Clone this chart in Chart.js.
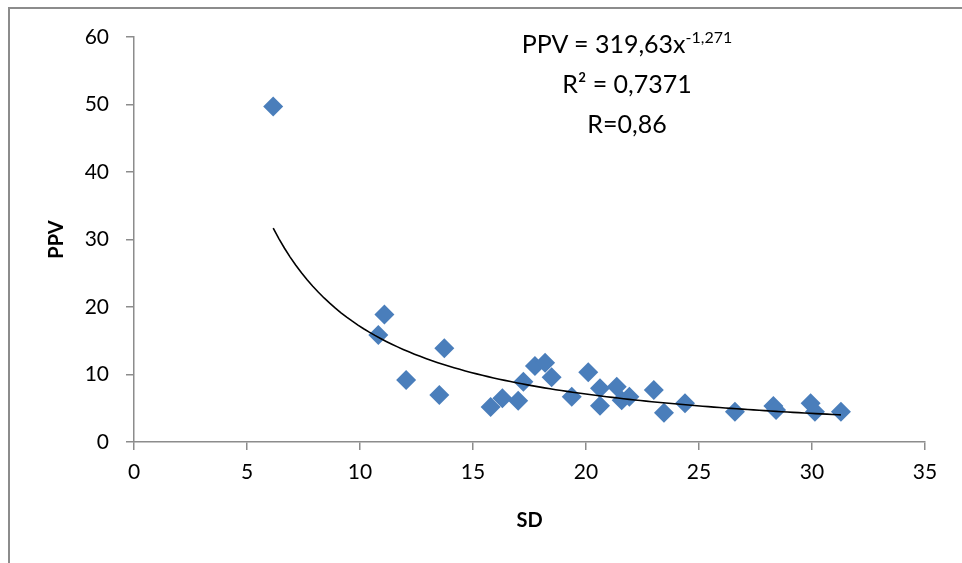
<!DOCTYPE html>
<html>
<head>
<meta charset="utf-8">
<script src="https://cdn.jsdelivr.net/npm/chart.js@4.4.1/dist/chart.umd.min.js"></script>
<style>
	body { margin: 0; background: #fff; }
	#wrap { position: relative; width: 962px; height: 563px; }
	#frame { position: absolute; left: 8px; top: 7px; right: 0; bottom: 0; border-left: 2px solid #8c8c8c; border-top: 2px solid #8c8c8c; }
	#eq { position: absolute; left: 477px; top: 23px; width: 300px; text-align: center; font-family: Lato, sans-serif; font-size: 25px; line-height: 40px; color: #000; }
	#eq sup { font-size: 16px; line-height: 0; vertical-align: 10px; }
</style>
</head>
<body>
<div id="wrap">
	<canvas id="ppv-chart" width="962" height="563"></canvas>
	<div id="frame"></div>
	<div id="eq">PPV = 319,63x<sup>-1,271</sup><br>R² = 0,7371<br>R=0,86</div>
</div>
<script>
Chart.defaults.font.family = 'Lato';
Chart.defaults.font.size = 21;
Chart.defaults.color = '#000';

// measured SD / PPV pairs
var sdList = [6.16, 10.81, 11.08, 12.04, 13.51, 13.73, 15.78, 16.3, 17.0, 17.23,
	17.74, 18.19, 18.48, 19.37, 20.1, 20.62, 20.62, 21.36, 21.58, 21.92,
	23.0, 23.45, 24.38, 26.59, 28.29, 28.41, 29.94, 30.13, 31.28];
var ppvList = [49.7, 15.85, 18.9, 9.19, 6.96, 13.9, 5.2, 6.47, 6.12, 8.93,
	11.26, 11.75, 9.58, 6.71, 10.33, 7.95, 5.38, 8.2, 6.2, 6.72,
	7.7, 4.35, 5.73, 4.49, 5.33, 4.74, 5.73, 4.49, 4.49];

// power trendline shown on the chart: PPV = 319,63 * SD^-1,271
var trendA = 319.63;
var trendB = -1.271;

var xTicks = [0, 5, 10, 15, 20, 25, 30, 35];
var yTicks = [0, 10, 20, 30, 40, 50, 60];

var points = [];
for (var i = 0; i < sdList.length; i++) {
	points.push({ x: sdList[i], y: ppvList[i] });
}

var trend = [];
var xMin = Math.min.apply(null, sdList);
var xMax = Math.max.apply(null, sdList);
for (var x = xMin; x < xMax; x += 0.25) {
	trend.push({ x: x, y: trendA * Math.pow(x, trendB) });
}
trend.push({ x: xMax, y: trendA * Math.pow(xMax, trendB) });

var axisGray = '#8c8c8c';

const ctx = document.getElementById('ppv-chart').getContext('2d');
const myChart = new Chart(ctx, {
	type: 'scatter',
	data: {
		datasets: [
			{
				type: 'line',
				label: 'trend',
				data: trend,
				borderColor: '#000',
				borderWidth: 1.6,
				pointRadius: 0,
				fill: false,
				tension: 0,
				order: 0
			},
			{
				label: 'PPV',
				data: points,
				pointStyle: 'rectRot',
				pointRadius: 10,
				pointHoverRadius: 10,
				backgroundColor: '#4a7ebb',
				borderColor: '#4a7ebb',
				borderWidth: 0,
				order: 1
			}
		]
	},
	options: {
		responsive: false,
		animation: false,
		devicePixelRatio: 1,
		layout: { padding: { left: 0, top: 37, right: 37, bottom: 0 } },
		plugins: {
			legend: { display: false },
			tooltip: { enabled: false }
		},
		scales: {
			x: {
				type: 'linear',
				min: 0,
				max: 35,
				afterBuildTicks: function(axis) {
					axis.ticks = xTicks.map(function(v) { return { value: v }; });
				},
				afterFit: function(axis) { axis.height = 121; },
				grid: { drawOnChartArea: false, drawTicks: true, tickLength: 8, color: axisGray, lineWidth: 1.5 },
				border: { display: true, color: axisGray, width: 1.5 },
				ticks: { padding: 10, maxRotation: 0 },
				title: { display: true, text: 'SD', font: { size: 20, weight: 'bold' }, padding: { top: 0, bottom: 30 } }
			},
			y: {
				type: 'linear',
				min: 0,
				max: 60,
				afterBuildTicks: function(axis) {
					axis.ticks = yTicks.map(function(v) { return { value: v }; });
				},
				afterFit: function(axis) { axis.width = 134; },
				grid: { drawOnChartArea: false, drawTicks: true, tickLength: 8, color: axisGray, lineWidth: 1.5 },
				border: { display: true, color: axisGray, width: 1.5 },
				ticks: { padding: 17 },
				title: { display: true, text: 'PPV', font: { size: 20, weight: 'bold' }, padding: { top: 45, bottom: 0 } }
			}
		}
	}
});
</script>
</body>
</html>
